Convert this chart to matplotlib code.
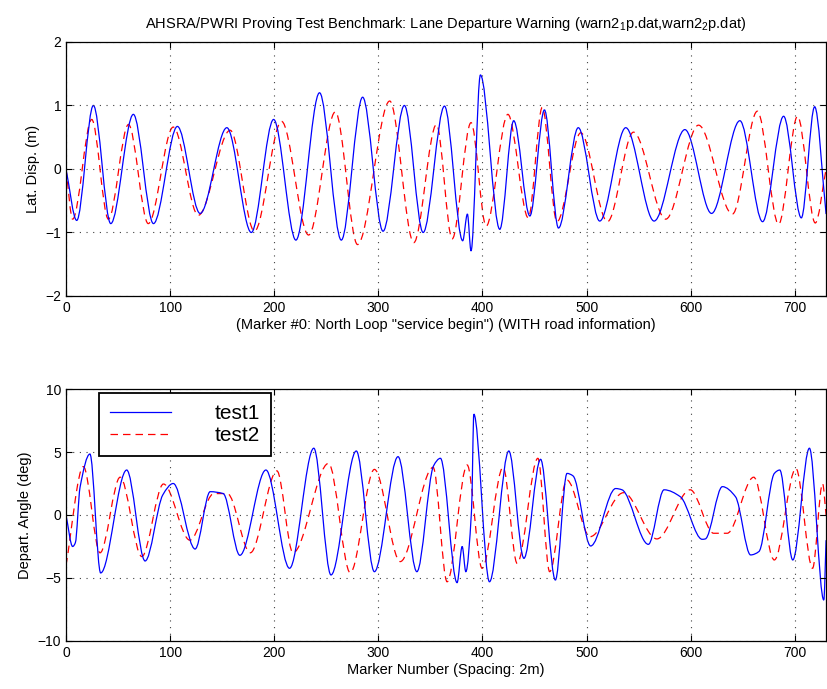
import numpy as np
import matplotlib.pyplot as plt
from matplotlib.path import Path
from matplotlib.patches import PathPatch
from matplotlib.lines import Line2D

plt.rcParams['font.family'] = ['Liberation Sans', 'DejaVu Sans']
plt.rcParams['mathtext.default'] = 'regular'

lat1_x = [0, 10.3, 26.3, 43, 64.7, 84, 107, 128.8, 154.5, 178, 199.4, 220.8, 243.5, 264.4,
          284.9, 304.5, 325, 343, 363.5, 381, 385.5, 389, 398, 416.6, 430, 445.5, 459.5,
          473, 492, 512.6, 537.6, 564.8, 594.4, 620, 647.2, 669, 689.2, 706.2, 719, 730]
lat1_y = [0, -0.81, 1.0, -0.86, 0.86, -0.86, 0.67, -0.70, 0.65, -1.0, 0.78, -1.12, 1.2, -1.12,
          1.13, -0.98, 1.0, -1.0, 0.99, -1.13, -0.71, -1.29, 1.48, -0.95, 0.76, -0.74, 0.93,
          -0.93, 0.65, -0.82, 0.65, -0.82, 0.62, -0.70, 0.76, -0.83, 0.83, -0.77, 0.98, -0.71]

lat2_x = [0, 6.4, 24.7, 40.7, 60, 79, 103, 127, 157.7, 181, 207, 233, 258.7, 280, 310.9, 334,
          355.8, 370.9, 389, 403.5, 424.4, 444, 457.4, 471.5, 494.4, 520, 545, 576, 607.5,
          640, 664, 684.4, 702.6, 719.6, 730]
lat2_y = [0, -0.79, 0.78, -0.79, 0.70, -0.86, 0.66, -0.73, 0.61, -0.98, 0.75, -1.04, 0.90,
          -1.19, 1.07, -1.16, 0.70, -1.1, 0.73, -0.90, 0.86, -0.77, 0.97, -0.83, 0.57, -0.83,
          0.58, -0.79, 0.69, -0.71, 0.91, -0.87, 0.83, -0.85, 0.0]

# departure angle (deg)
ang1_x = [0, 6.4, 9, 13.5, 23, 33.3, 58.3, 76, 93, 103, 124, 138.5, 151, 167, 192, 214.7, 238,
          254.5, 278.8, 296.2, 318.9, 337, 353, 359.6, 375.6, 380.5, 384, 389.5, 391.7, 406.7,
          425.3, 439.8, 455.8, 470, 481.2, 487, 503.9, 527.9, 534, 559.3, 574.4, 590, 611,
          614, 630.4, 643, 657.5, 665.5, 680.3, 685.5, 698, 714, 727.8, 730]
ang1_y = [0, -2.5, -2.2, 2.2, 4.84, -4.6, 3.57, -3.65, 1.6, 2.5, -2.7, 1.85, 1.7, -3.2, 3.57,
          -4.23, 5.3, -4.76, 5.08, -4.5, 4.63, -4.5, 3.9, 4.5, -5.37, -2.5, -4.5, 0.4, 8.0, -5.3,
          5.08, -3.44, 4.42, -5.16, 3.3, 3.1, -2.46, 2.1, 2.0, -2.33, 2.0, 1.45, -1.93,
          -1.9, 2.25, 1.45, -3.17, -2.9, 3.3, 3.57, -3.57, 5.3, -6.75, -2.0]

ang2_x = [0, 16.7, 32.7, 52, 72.8, 93.6, 119, 142, 155, 177, 202.6, 218, 252.2, 273, 296.2,
          321, 352.6, 366, 385.3, 399.6, 419.8, 433.3, 453.2, 464.5, 481, 503.4, 535.4, 567.5,
          599.5, 622, 635, 660.5, 680.3, 701, 717, 726.6, 730]
ang2_y = [-4.0, 3.84, -3.0, 3.0, -3.3, 2.46, -2.0, 1.7, 1.7, -3.0, 3.5, -3.0, 4.1, -4.58, 3.62,
          -3.7, 3.78, -5.3, 3.97, -4.23, 3.78, -3.84, 4.5, -4.5, 2.78, -1.72, 1.77, -1.9,
          2.0, -1.45, -1.45, 3.0, -3.57, 3.7, -4.23, 2.5, 0.0]


def curve(xs, ys):
    # smooth bezier path through the read points (flat at turning points)
    xs = np.asarray(xs, float)
    ys = np.asarray(ys, float)
    d = np.diff(ys) / np.diff(xs)
    m = np.zeros_like(xs)
    m[0], m[-1] = d[0], d[-1]
    for i in range(1, len(xs) - 1):
        if d[i - 1] * d[i] > 0:
            m[i] = 2 * d[i - 1] * d[i] / (d[i - 1] + d[i])
    verts = [(xs[0], ys[0])]
    codes = [Path.MOVETO]
    for i in range(len(xs) - 1):
        h = xs[i + 1] - xs[i]
        verts += [(xs[i] + h / 3, ys[i] + m[i] * h / 3),
                  (xs[i + 1] - h / 3, ys[i + 1] - m[i + 1] * h / 3),
                  (xs[i + 1], ys[i + 1])]
        codes += [Path.CURVE4] * 3
    return Path(verts, codes)


def draw(ax, xs, ys, **kw):
    ax.add_patch(PathPatch(curve(xs, ys), fill=False, **kw))


blue = dict(edgecolor='#0000ff', linewidth=0.9)
red = dict(edgecolor='#ff0000', linewidth=0.9, linestyle=(0, (6, 4)))

fig = plt.figure(figsize=(8.28, 6.89), dpi=100)
ax1 = fig.add_axes([0.0797, 0.5704, 0.918, 0.3687])
ax2 = fig.add_axes([0.0797, 0.0697, 0.918, 0.3657])

draw(ax1, lat2_x, lat2_y, **red)
draw(ax1, lat1_x, lat1_y, **blue)
draw(ax2, ang2_x, ang2_y, **red)
draw(ax2, ang1_x, ang1_y, **blue)

for ax in (ax1, ax2):
    ax.set_xlim(0, 730)
    ax.set_xticks(np.arange(0, 701, 100))
    ax.grid(True, color='0.25', linestyle=(0, (1, 5)), linewidth=0.8)
    ax.tick_params(direction='in', top=True, right=True, labelsize=10, length=4)
    for s in ax.spines.values():
        s.set_linewidth(0.9)

ax1.set_ylim(-2, 2)
ax1.set_yticks([-2, -1, 0, 1, 2])
ax2.set_ylim(-10, 10)
ax2.set_yticks([-10, -5, 0, 5, 10])

ax1.set_title('AHSRA/PWRI Proving Test Benchmark: Lane Departure Warning '
              '(warn2$_1$p.dat,warn2$_2$p.dat)', fontsize=10.5, pad=10)
ax1.set_xlabel('(Marker #0: North Loop "service begin") (WITH road information)',
               fontsize=10.5, labelpad=2)
ax1.set_ylabel('Lat. Disp. (m)', fontsize=10.5)
ax2.set_xlabel('Marker Number (Spacing: 2m)', fontsize=10.5, labelpad=2)
ax2.set_ylabel('Depart. Angle (deg)', fontsize=10.5)

handles = [Line2D([], [], color='#0000ff', lw=0.9),
           Line2D([], [], color='#ff0000', lw=0.9, linestyle=(0, (6, 4)))]
leg = ax2.legend(handles, ['test1', 'test2'], loc='upper left',
                 bbox_to_anchor=(0.043, 0.984), borderaxespad=0, fontsize=15,
                 handlelength=2.9, handletextpad=2.1, labelspacing=0.12,
                 fancybox=False, framealpha=1, edgecolor='black', borderpad=0.55)
leg.get_frame().set_linewidth(1.3)

fig.savefig('out.png', dpi=100)
